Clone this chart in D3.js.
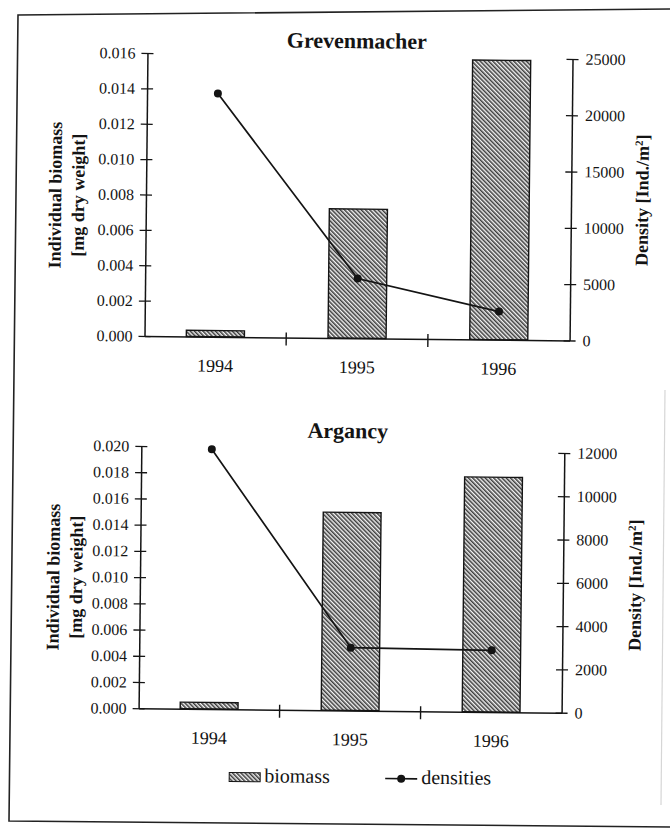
<!DOCTYPE html>
<html>
<head>
<meta charset="utf-8">
<script src="https://cdn.jsdelivr.net/npm/d3@7"></script>
<style>
  body { margin: 0; background: #fff; }
  svg { display: block; }
</style>
</head>
<body>
<div id="chart"></div>
<script>
// page size
var svgWidth = 670;
var svgHeight = 828;

// data
var years = ["1994", "1995", "1996"];
var grevBiomass = [0.00035, 0.0073, 0.0158];
var grevDensity = [21600, 5300, 2500];
var argBiomass = [0.0005, 0.0151, 0.0179];
var argDensity = [12000, 2900, 2850];

// tick labels
var grevBiomassTicks = [0, 0.002, 0.004, 0.006, 0.008, 0.010, 0.012, 0.014, 0.016];
var grevDensityTicks = [0, 5000, 10000, 15000, 20000, 25000];
var argBiomassTicks = [0, 0.002, 0.004, 0.006, 0.008, 0.010, 0.012, 0.014, 0.016, 0.018, 0.020];
var argDensityTicks = [0, 2000, 4000, 6000, 8000, 10000, 12000];

var ink = "#141414";
var serif = "'Liberation Serif', 'Times New Roman', serif";

// panel layouts (the scan is tilted a little, the whole group is rotated back)
var topPanel = {
  title: "Grevenmacher", titleX: 353, titleY: 48,
  left: 143.7, right: 568.8, base: 338, leftTop: 55, rightTop: 56.5,
  lbl1X: 59, lbl2X: 82, lblY: 198, rLblX: 646, rLblY: 197
};
var bottomPanel = {
  title: "Argancy", titleX: 348, titleY: 438,
  left: 141.7, right: 564.7, base: 710.3, leftTop: 448, rightTop: 450.6,
  lbl1X: 61, lbl2X: 84, lblY: 580, rLblX: 643, rLblY: 582
};

var svg = d3.select("#chart")
  .append("svg")
  .attr("width", svgWidth)
  .attr("height", svgHeight)
  .style("font-family", serif);

// hatch fill for the biomass bars
var defs = svg.append("defs");
var pat = defs.append("pattern")
  .attr("id", "hatch")
  .attr("patternUnits", "userSpaceOnUse")
  .attr("width", 3)
  .attr("height", 3)
  .attr("patternTransform", "rotate(-45)");
pat.append("rect").attr("width", 3).attr("height", 3).attr("fill", "#f4f4f4");
pat.append("line")
  .attr("x1", 0.8).attr("y1", 0).attr("x2", 0.8).attr("y2", 3)
  .attr("stroke", "#222").attr("stroke-width", 1.35);

// frame of the figure
svg.append("path")
  .attr("d", "M670,9 L18,15 L9,821 L670,827")
  .attr("fill", "none")
  .attr("stroke", "#222")
  .attr("stroke-width", 1.6);
svg.append("line")
  .attr("x1", 665).attr("y1", 390).attr("x2", 661).attr("y2", 805)
  .attr("stroke", "#d6d6d6").attr("stroke-width", 1.2);

var root = svg.append("g").attr("transform", "rotate(0.6, 335, 414)");

function styleAxis(g, size) {
  g.attr("font-family", serif).attr("font-size", size);
  g.select(".domain").attr("stroke", ink).attr("stroke-width", 1.5);
  g.selectAll(".tick line").attr("stroke", ink).attr("stroke-width", 1.3);
  g.selectAll(".tick text").attr("fill", ink);
}

function renderPanel(panel, biomass, density, leftTicks, rightTicks) {
  var g = root.append("g");

  var xScale = d3.scaleBand()
    .domain(years)
    .range([panel.left, panel.right])
    .paddingInner(0.59)
    .paddingOuter(0.295);

  var yLeft = d3.scaleLinear()
    .domain([0, d3.max(leftTicks)])
    .range([panel.base, panel.leftTop]);

  var yRight = d3.scaleLinear()
    .domain([0, d3.max(rightTicks)])
    .range([panel.base, panel.rightTop]);

  var rows = years.map(function(y, i) {
    return { year: y, biomass: biomass[i], density: density[i] };
  });

  // biomass bars
  g.append("g").selectAll("rect")
    .data(rows)
    .enter()
    .append("rect")
    .attr("x", d => xScale(d.year))
    .attr("y", d => yLeft(d.biomass))
    .attr("width", xScale.bandwidth())
    .attr("height", d => panel.base - yLeft(d.biomass))
    .attr("fill", "url(#hatch)")
    .attr("stroke", ink)
    .attr("stroke-width", 1.4);

  // x axis, labels under the bars
  var xAxis = g.append("g")
    .attr("transform", `translate(0, ${panel.base})`)
    .call(d3.axisBottom(xScale).tickSize(0).tickSizeOuter(0));
  styleAxis(xAxis, 18);
  xAxis.selectAll(".tick text").attr("y", 35).attr("dy", null);

  // category separators crossing the x axis
  g.append("g").selectAll("line")
    .data(years.slice(1))
    .enter()
    .append("line")
    .attr("x1", d => xScale(d) - (xScale.step() - xScale.bandwidth()) / 2)
    .attr("x2", d => xScale(d) - (xScale.step() - xScale.bandwidth()) / 2)
    .attr("y1", panel.base - 5)
    .attr("y2", panel.base + 8)
    .attr("stroke", ink)
    .attr("stroke-width", 1.4);

  // left axis: biomass
  var leftAxis = g.append("g")
    .attr("transform", `translate(${panel.left}, 0)`)
    .call(d3.axisLeft(yLeft)
      .tickValues(leftTicks)
      .tickFormat(d3.format(".3f"))
      .tickSize(6)
      .tickSizeOuter(0));
  styleAxis(leftAxis, 16);
  leftAxis.selectAll(".tick line").attr("x1", 6);
  leftAxis.selectAll(".tick text").attr("x", -12);

  // right axis: density
  var rightAxis = g.append("g")
    .attr("transform", `translate(${panel.right}, 0)`)
    .call(d3.axisRight(yRight)
      .tickValues(rightTicks)
      .tickFormat(d3.format("d"))
      .tickSize(6)
      .tickSizeOuter(0));
  styleAxis(rightAxis, 16);
  rightAxis.selectAll(".tick line").attr("x1", -6);
  rightAxis.selectAll(".tick text").attr("x", 13);

  // densities line + dots
  var line = d3.line()
    .x(d => xScale(d.year) + xScale.bandwidth() / 2)
    .y(d => yRight(d.density));

  g.append("path")
    .datum(rows)
    .attr("d", line)
    .attr("fill", "none")
    .attr("stroke", ink)
    .attr("stroke-width", 1.7);

  g.append("g").selectAll("circle")
    .data(rows)
    .enter()
    .append("circle")
    .attr("cx", d => xScale(d.year) + xScale.bandwidth() / 2)
    .attr("cy", d => yRight(d.density))
    .attr("r", 4)
    .attr("fill", ink);

  // title
  g.append("text")
    .attr("x", panel.titleX)
    .attr("y", panel.titleY)
    .attr("text-anchor", "middle")
    .attr("font-size", 22)
    .attr("font-weight", "bold")
    .attr("fill", ink)
    .text(panel.title);

  // axis titles
  g.append("text")
    .attr("transform", `translate(${panel.lbl1X}, ${panel.lblY}) rotate(-90)`)
    .attr("text-anchor", "middle")
    .attr("font-size", 18)
    .attr("font-weight", "bold")
    .attr("fill", ink)
    .text("Individual biomass");

  g.append("text")
    .attr("transform", `translate(${panel.lbl2X}, ${panel.lblY}) rotate(-90)`)
    .attr("text-anchor", "middle")
    .attr("font-size", 18)
    .attr("font-weight", "bold")
    .attr("fill", ink)
    .text("[mg dry weight]");

  var rl = g.append("text")
    .attr("transform", `translate(${panel.rLblX}, ${panel.rLblY}) rotate(-90)`)
    .attr("text-anchor", "middle")
    .attr("font-size", 18)
    .attr("font-weight", "bold")
    .attr("fill", ink);
  rl.append("tspan").text("Density [Ind./m");
  rl.append("tspan").attr("dy", -6).attr("font-size", 11).text("2");
  rl.append("tspan").attr("dy", 6).text("]");
}

renderPanel(topPanel, grevBiomass, grevDensity, grevBiomassTicks, grevDensityTicks);
renderPanel(bottomPanel, argBiomass, argDensity, argBiomassTicks, argDensityTicks);

// legend
var legend = root.append("g").attr("font-size", 20).attr("fill", ink);
legend.append("rect")
  .attr("x", 233).attr("y", 773.5)
  .attr("width", 31).attr("height", 9)
  .attr("fill", "url(#hatch)")
  .attr("stroke", ink)
  .attr("stroke-width", 1);
legend.append("text").attr("x", 268).attr("y", 783).text("biomass");
legend.append("line")
  .attr("x1", 389).attr("x2", 421)
  .attr("y1", 778).attr("y2", 778)
  .attr("stroke", ink).attr("stroke-width", 1.6);
legend.append("circle").attr("cx", 405).attr("cy", 778).attr("r", 4).attr("fill", ink);
legend.append("text").attr("x", 425).attr("y", 783).text("densities");
</script>
</body>
</html>
